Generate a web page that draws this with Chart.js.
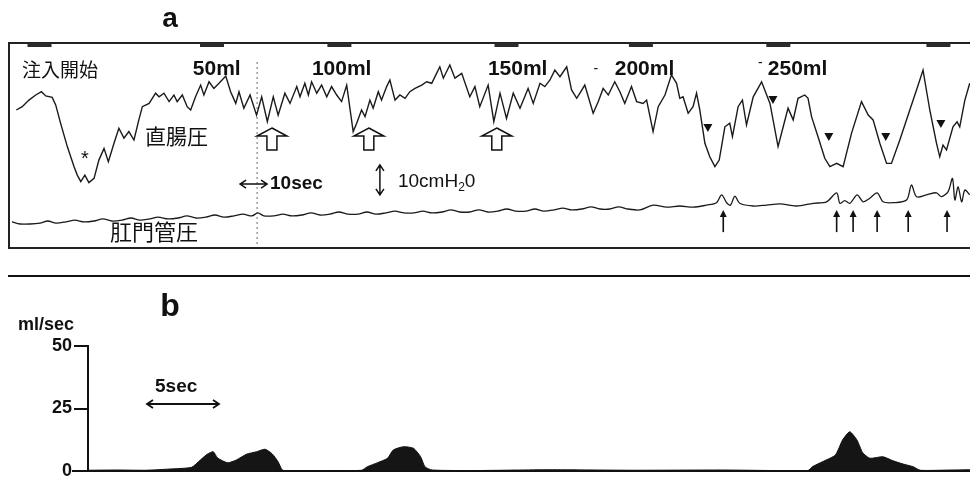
<!DOCTYPE html>
<html>
<head>
<meta charset="utf-8">
<script src="https://cdn.jsdelivr.net/npm/chart.js@4.4.1/dist/chart.umd.min.js"></script>
<style>
  html, body { margin: 0; padding: 0; background: #fff; }
  #wrap { position: relative; width: 970px; height: 481px; overflow: hidden; }
  canvas { position: absolute; left: 0; }
  #pressure { top: 0; }
  #flow { top: 270px; }
</style>
</head>
<body>
<div id="wrap">
  <canvas id="pressure" width="970" height="270"></canvas>
  <canvas id="flow" width="970" height="224"></canvas>
</div>
<script>
// a: 直腸圧 / 肛門管圧 (秒, cmH2O)
const rectalTime = [2.7, 4.9, 7.4, 9.9, 12.0, 13.6, 16.0, 17.3, 19.1, 21.6, 24.1, 25.3, 26.6, 28.1, 29.6, 31.5, 33.3, 35.2, 36.8, 38.9,
  40.7, 42.6, 44.4, 46.3, 48.1, 49.4, 51.9, 54.3, 55.6, 57.4, 59.3, 61.1, 62.3, 64.2, 66.0, 67.3, 69.1, 71.0, 72.2, 74.1,
  75.9, 77.8, 80.3, 82.1, 84.0, 85.2, 87.0, 89.3, 91.7, 93.6, 95.7, 97.9, 99.7, 102.2, 104.1, 106.6, 107.8, 109.6, 110.9, 112.1,
  114.0, 115.8, 117.7, 119.5, 121.4, 123.2, 125.1, 127.5, 128.8, 130.6, 131.9, 133.7, 134.9, 136.8, 138.0, 139.9, 141.1, 143.0, 144.8, 146.7,
  148.5, 150.4, 152.9, 154.7, 156.6, 158.4, 159.6, 160.9, 163.3, 165.2, 167.7, 170.7, 172.6, 174.4, 177.5, 179.6, 181.9, 184.3, 186.8, 189.3,
  192.3, 194.2, 196.7, 198.5, 200.4, 202.2, 204.1, 206.6, 208.4, 210.3, 211.5, 213.3, 216.4, 218.3, 220.1, 222.0, 224.4, 226.3, 228.1, 230.6,
  232.5, 234.9, 236.2, 238.6, 240.5, 243.0, 245.4, 247.3, 248.5, 249.7, 251.6, 253.4, 254.7, 255.9, 257.8, 259.6, 261.5, 263.1, 265.2, 267.0,
  268.0, 270.1, 271.7, 273.2, 275.7, 278.8, 281.9, 284.9, 286.8, 288.6, 290.5, 292.3, 294.8, 296.0, 297.3, 299.7, 302.2, 304.1, 306.6, 309.0,
  312.1, 315.8, 318.3, 320.1, 322.6, 325.1, 326.9, 330.0, 333.7, 336.8, 338.6, 341.1, 343.6, 344.8, 346.0, 347.3, 349.7, 351.2, 352.2, 354.1, 355.9];
const rectalPressure = [46, 47.1, 49.3, 51, 52.1, 50.7, 50.2, 47.7, 41.6, 33.8, 27.1, 24.3, 22.1, 24.3, 21.8, 23.2, 29.3, 33.2, 28.8, 34.9,
  39.9, 36.6, 38.8, 36, 42.7, 47.1, 48.2, 51.6, 50.4, 51.6, 48.8, 51, 48.8, 51, 47.1, 46, 50.4, 54.3, 51, 55.4,
  53.2, 54.9, 57.3, 52.1, 48.2, 52.1, 46.6, 51, 44.3, 50.4, 42.1, 50.4, 44.3, 51.6, 48.2, 53.8, 50.4, 54.9, 51, 55.4,
  51.6, 54.3, 50.4, 53.8, 51, 48.8, 54.3, 38.8, 41.6, 46, 43.8, 49.3, 46.6, 52.1, 49.3, 53.8, 56, 49.3, 51, 49.9,
  52.1, 53.2, 54.3, 55.4, 54.9, 58.2, 60.4, 56.6, 61, 56.6, 58.2, 50.4, 53.8, 47.1, 54.3, 42.1, 51.6, 43.2, 51.6, 46.6,
  53.2, 48.2, 54.9, 53.8, 56, 59.3, 57.1, 60.4, 52.7, 49.9, 51.6, 54.3, 44.9, 48.8, 53.2, 51, 55.4, 52.1, 48.2, 53.8,
  48.8, 48.2, 49.3, 38.8, 47.1, 51, 57.7, 54.9, 49.9, 50.4, 44.9, 47.1, 51.6, 46, 34.9, 30.4, 27.1, 29.3, 40.4, 41.6,
  37.1, 47.1, 49.3, 41, 50.4, 55.4, 48.2, 33.8, 40.4, 46.6, 42.7, 49.9, 51, 49.9, 43.8, 37.1, 29.9, 27.1, 28.2, 27.1,
  38.2, 48.8, 44.3, 42.7, 34.9, 28.2, 28.2, 36, 46, 54.3, 59.3, 46, 34.9, 30.4, 34.3, 32.7, 40.4, 42.1, 40.4, 49.3, 54.9];

const analTime = [1.1, 4.1, 7.8, 11.5, 14.4, 17.4, 21.1, 24.4, 27.8, 31.5, 34.8, 38.1, 41.9, 45.2, 48.5, 52.2, 55.2, 58.9, 62.6, 65.9,
  69.3, 73.0, 76.3, 79.6, 83.3, 86.7, 90.0, 92.2, 94.4, 98.1, 101.5, 104.8, 108.5, 111.9, 115.2, 118.9, 122.2, 125.6, 129.3, 132.6,
  135.9, 139.6, 143.0, 146.3, 150.0, 153.3, 156.7, 160.4, 163.7, 167.0, 170.7, 174.1, 177.4, 181.1, 184.4, 187.8, 191.5, 194.8, 198.1, 201.9,
  205.2, 208.5, 212.2, 215.6, 218.9, 222.6, 225.9, 229.3, 233.7, 238.6, 243.6, 248.5, 253.4, 258.4, 262.1, 264.0, 266.0, 267.3, 268.9, 270.7,
  275.7, 280.6, 285.6, 291.7, 297.9, 302.9, 306.6, 307.8, 309.6, 311.5, 314.2, 316.4, 318.9, 321.6, 323.8, 327.5, 332.5, 334.3, 336.2, 339.9,
  343.6, 345.4, 347.9, 349.5, 350.4, 351.6, 352.9, 354.1, 355.9];
const analPressure = [8.7, 8, 8, 8.3, 9, 8.3, 8.7, 9.3, 8.7, 9, 9.7, 9, 9.3, 10, 9.3, 9.7, 10.3, 9.7, 10, 10.7,
  10, 10.3, 11, 10.3, 10.7, 11.3, 10.7, 11.7, 10.7, 10.7, 11.3, 10.7, 11, 11.7, 11, 11.3, 12, 11.3, 11.3, 12,
  11.3, 11.7, 12.3, 11.7, 11.7, 12.3, 11.7, 12, 12.7, 12, 12, 12.7, 12, 12.3, 13, 12.3, 12.3, 13, 12.3, 12.7,
  13.3, 12.7, 13, 13.7, 13, 13, 13.7, 13, 12.7, 14.3, 13.6, 14, 13.6, 14.3, 15.1, 17.7, 14.9, 14.3, 17.3, 14.9,
  14, 14.3, 14.7, 14, 14.9, 15.4, 18.4, 14.9, 15.8, 14.9, 17.7, 15.4, 16.6, 18.4, 15.4, 15.1, 16, 21, 17.1, 17.7,
  18.4, 17.1, 18.8, 23.2, 16, 20.4, 15.4, 19.3, 17.7];

// 注入マーカー, 注入量, 収縮, 弛緩
const markerTimes = [11.3, 75.2, 122.4, 184.3, 234.1, 285.0, 344.3];
const volumeLabels = ['50ml', '100ml', '150ml', '200ml', '250ml'];
const volumeTimes = [68.1, 112.2, 177.4, 224.4, 281.1];
const contractionTimes = [97.4, 133.3, 180.7];
const relaxTimes = [258.9, 283.0, 303.7, 324.8, 345.2];
const relaxLevels = [40, 49.3, 37, 37, 41.3];
const analSpikeTimes = [264.6, 306.6, 312.7, 321.6, 333.1, 347.5];

// b: 流量 (秒, ml/sec)
const flowTime = [0, 2, 4, 5.7, 7.2, 7.8, 8.3, 8.7, 9.0, 9.7, 10.3, 11.0, 11.7, 12.3, 12.8, 13.2, 13.5, 14, 17, 19.0,
  19.4, 20.1, 20.8, 21.2, 21.9, 22.6, 23.1, 23.4, 23.9, 27, 32, 38, 44, 50.0, 50.3, 51.0, 51.9, 52.4, 52.9, 53.4,
  53.8, 54.3, 55.2, 55.9, 56.6, 57.3, 57.8, 60, 61.25];
const flowRate = [0.3, 0.4, 0.3, 0.8, 1.5, 4.4, 6.8, 7.7, 5.2, 3.3, 4.4, 6.7, 7.7, 8.7, 6.8, 3.7, 0.4, 0, 0.2, 0.3,
  1.7, 3.3, 5.1, 8.4, 9.7, 9.1, 5.7, 1.7, 0.4, 0.2, 0.5, 0.3, 0.4, 0.2, 1.7, 3.7, 6.4, 12.4, 15.7, 12.4,
  7.3, 5.1, 5.7, 4.1, 2.8, 1.7, 0.3, 0.4, 0.5];
const flowTicks = [0, 25, 50];

const LATIN = '"Liberation Sans", Arial, sans-serif';
const CJK = '"Noto Sans CJK JP", sans-serif';

function text(ctx, str, x, y, font, align) {
  ctx.font = font;
  ctx.textAlign = align || 'left';
  ctx.textBaseline = 'middle';
  ctx.fillText(str, x, y);
}

function doubleArrowH(ctx, x1, x2, y) {
  ctx.beginPath();
  ctx.moveTo(x1, y); ctx.lineTo(x2, y);
  ctx.moveTo(x1 + 6, y - 4); ctx.lineTo(x1, y); ctx.lineTo(x1 + 6, y + 4);
  ctx.moveTo(x2 - 6, y - 4); ctx.lineTo(x2, y); ctx.lineTo(x2 - 6, y + 4);
  ctx.stroke();
}

const pressureDecor = {
  id: 'pressureDecor',
  beforeDatasetsDraw(chart) {
    const { ctx, chartArea: a, scales: { x, y } } = chart;
    ctx.save();
    // dashed time line
    ctx.strokeStyle = '#666';
    ctx.lineWidth = 1;
    ctx.setLineDash([2, 3]);
    ctx.beginPath();
    ctx.moveTo(x.getPixelForValue(91.9), y.getPixelForValue(62));
    ctx.lineTo(x.getPixelForValue(91.9), a.bottom);
    ctx.stroke();
    ctx.restore();
  },
  afterDatasetsDraw(chart) {
    const { ctx, chartArea: a, scales: { x, y } } = chart;
    ctx.save();
    ctx.fillStyle = '#111';
    ctx.strokeStyle = '#222';

    // frame
    ctx.lineWidth = 2;
    ctx.beginPath();
    ctx.moveTo(a.right, a.top); ctx.lineTo(a.left, a.top); ctx.lineTo(a.left, a.bottom); ctx.lineTo(a.right, a.bottom);
    ctx.stroke();

    // injection markers on top edge
    ctx.fillStyle = '#2b2b2b';
    markerTimes.forEach(t => {
      const cx = x.getPixelForValue(t);
      ctx.fillRect(cx - 12, a.top, 24, 4);
    });
    ctx.fillStyle = '#111';

    // panel letter
    text(ctx, 'a', 170, 19, 'bold 28px ' + LATIN, 'center');

    // labels
    text(ctx, '注入開始', x.getPixelForValue(4.8), y.getPixelForValue(59.5), '19px ' + CJK);
    volumeLabels.forEach((lab, i) => {
      text(ctx, lab, x.getPixelForValue(volumeTimes[i]), y.getPixelForValue(59.5), 'bold 21px ' + LATIN);
    });
    text(ctx, '-', x.getPixelForValue(216.5), y.getPixelForValue(59.5), '14px ' + LATIN);
    text(ctx, '-', x.getPixelForValue(277.5), y.getPixelForValue(61.5), '14px ' + LATIN);
    text(ctx, '直腸圧', x.getPixelForValue(50.4), y.getPixelForValue(37.3), '21px ' + CJK);
    text(ctx, '肛門管圧', x.getPixelForValue(37.4), y.getPixelForValue(5.3), '22px ' + CJK);
    text(ctx, '*', x.getPixelForValue(28.1), y.getPixelForValue(29.5), '20px ' + LATIN, 'center');

    // 10 sec scale
    ctx.lineWidth = 1.5;
    ctx.strokeStyle = '#111';
    const sy = y.getPixelForValue(21.3);
    doubleArrowH(ctx, x.getPixelForValue(85.6), x.getPixelForValue(95.6), sy);
    text(ctx, '10sec', x.getPixelForValue(96.7), sy, 'bold 19px ' + LATIN);

    // 10 cmH2O scale
    const vx = x.getPixelForValue(137.4);
    const vTop = y.getPixelForValue(27.7), vBot = y.getPixelForValue(17.7);
    ctx.beginPath();
    ctx.moveTo(vx, vTop); ctx.lineTo(vx, vBot);
    ctx.moveTo(vx - 4, vTop + 6); ctx.lineTo(vx, vTop); ctx.lineTo(vx + 4, vTop + 6);
    ctx.moveTo(vx - 4, vBot - 6); ctx.lineTo(vx, vBot); ctx.lineTo(vx + 4, vBot - 6);
    ctx.stroke();
    const cy = y.getPixelForValue(22);
    let tx = x.getPixelForValue(144.1);
    ctx.font = '19px ' + LATIN;
    ctx.textAlign = 'left';
    ctx.textBaseline = 'middle';
    ctx.fillText('10cmH', tx, cy);
    tx += ctx.measureText('10cmH').width;
    ctx.font = '12px ' + LATIN;
    ctx.fillText('2', tx, cy + 6);
    tx += ctx.measureText('2').width;
    ctx.font = '19px ' + LATIN;
    ctx.fillText('0', tx, cy);

    // hollow arrows (rectal contractions)
    ctx.lineWidth = 1.5;
    contractionTimes.forEach(t => {
      const cx = x.getPixelForValue(t);
      const tip = y.getPixelForValue(40), base = y.getPixelForValue(32.7);
      ctx.beginPath();
      ctx.moveTo(cx, tip);
      ctx.lineTo(cx + 15, tip + 8);
      ctx.lineTo(cx + 5, tip + 8);
      ctx.lineTo(cx + 5, base);
      ctx.lineTo(cx - 5, base);
      ctx.lineTo(cx - 5, tip + 8);
      ctx.lineTo(cx - 15, tip + 8);
      ctx.closePath();
      ctx.fillStyle = '#fff';
      ctx.fill();
      ctx.stroke();
    });

    // filled triangles (relaxation)
    ctx.fillStyle = '#111';
    relaxTimes.forEach((t, i) => {
      const cx = x.getPixelForValue(t), cyy = y.getPixelForValue(relaxLevels[i]);
      ctx.beginPath();
      ctx.moveTo(cx - 4.5, cyy - 4);
      ctx.lineTo(cx + 4.5, cyy - 4);
      ctx.lineTo(cx, cyy + 4);
      ctx.closePath();
      ctx.fill();
    });

    // thin arrows under anal canal pressure
    ctx.lineWidth = 1.6;
    analSpikeTimes.forEach(t => {
      const cx = x.getPixelForValue(t);
      const top = y.getPixelForValue(12.7), bot = y.getPixelForValue(5.3);
      ctx.beginPath();
      ctx.moveTo(cx, bot); ctx.lineTo(cx, top + 2);
      ctx.stroke();
      ctx.beginPath();
      ctx.moveTo(cx, top); ctx.lineTo(cx - 3.5, top + 7); ctx.lineTo(cx + 3.5, top + 7);
      ctx.closePath();
      ctx.fill();
    });
    ctx.restore();
  }
};

new Chart(document.getElementById('pressure').getContext('2d'), {
  type: 'line',
  data: {
    datasets: [
      {
        label: '直腸圧',
        data: rectalTime.map((t, i) => ({ x: t, y: rectalPressure[i] })),
        borderColor: '#1a1a1a',
        borderWidth: 1.4,
        pointRadius: 0,
        tension: 0
      },
      {
        label: '肛門管圧',
        data: analTime.map((t, i) => ({ x: t, y: analPressure[i] })),
        borderColor: '#1a1a1a',
        borderWidth: 1.3,
        pointRadius: 0,
        tension: 0.3
      }
    ]
  },
  options: {
    responsive: false,
    animation: false,
    layout: { padding: { left: 9, right: 0, top: 43, bottom: 22 } },
    plugins: { legend: { display: false }, tooltip: { enabled: false } },
    scales: {
      x: { type: 'linear', min: 0, max: 356, display: false },
      y: { min: 0, max: 68.33, display: false }
    }
  },
  plugins: [pressureDecor]
});

const flowDecor = {
  id: 'flowDecor',
  afterDraw(chart) {
    const { ctx, chartArea: a } = chart;
    ctx.save();
    ctx.fillStyle = '#111';
    ctx.strokeStyle = '#111';
    // separator between panels
    ctx.lineWidth = 2;
    ctx.beginPath();
    ctx.moveTo(8, 6); ctx.lineTo(970, 6);
    ctx.stroke();
    // baseline
    ctx.beginPath();
    ctx.moveTo(72, a.bottom); ctx.lineTo(a.right, a.bottom);
    ctx.stroke();

    text(ctx, 'b', 170, 37, 'bold 32px ' + LATIN, 'center');
    text(ctx, 'ml/sec', 18, 55, 'bold 18px ' + LATIN);
    text(ctx, '5sec', 155, 117, 'bold 19px ' + LATIN);
    ctx.lineWidth = 1.8;
    doubleArrowH(ctx, 147, 219, 134);
    ctx.restore();
  }
};

new Chart(document.getElementById('flow').getContext('2d'), {
  type: 'line',
  data: {
    datasets: [{
      label: 'ml/sec',
      data: flowTime.map((t, i) => ({ x: t, y: flowRate[i] })),
      borderColor: '#111',
      backgroundColor: '#151515',
      borderWidth: 1,
      fill: 'origin',
      pointRadius: 0,
      tension: 0.2
    }]
  },
  options: {
    responsive: false,
    animation: false,
    layout: { padding: { left: 0, right: 0, top: 76, bottom: 23 } },
    plugins: { legend: { display: false }, tooltip: { enabled: false } },
    scales: {
      x: { type: 'linear', min: 0, max: 61.25, display: false },
      y: {
        min: 0,
        max: 50,
        afterBuildTicks(scale) { scale.ticks = flowTicks.map(v => ({ value: v })); },
        afterFit(scale) { scale.width = 88; },
        ticks: { color: '#111', padding: 2, font: { family: LATIN, weight: 'bold', size: 18 } },
        grid: { drawOnChartArea: false, drawTicks: true, tickLength: 14, color: '#111', lineWidth: 2 },
        border: { color: '#111', width: 2 }
      }
    }
  },
  plugins: [flowDecor]
});
</script>
</body>
</html>
